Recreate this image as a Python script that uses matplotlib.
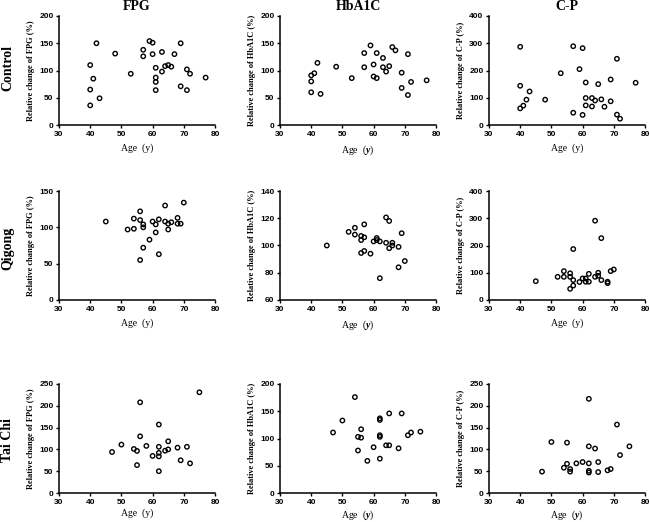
import matplotlib
matplotlib.use('Agg')
import matplotlib.pyplot as plt

plt.rcParams['font.family'] = ['Liberation Serif', 'DejaVu Serif']
plt.rcParams['mathtext.fontset'] = 'custom'
plt.rcParams['mathtext.it'] = 'Liberation Serif:italic:bold'
plt.rcParams['mathtext.rm'] = 'Liberation Serif:bold'

# ---- data (age, relative change %) ----
ctrl_fpg_age = [40, 40, 40, 41, 42, 43, 48, 53, 57, 57, 59, 60, 60, 61, 61, 61, 61, 63, 63, 64, 65, 66, 67, 69, 69, 71, 71, 72, 77]
ctrl_fpg_val = [110, 65, 36, 85, 150, 49, 131, 94, 138, 126, 154, 151, 130, 105, 87, 79, 64, 134, 98, 108, 110, 107, 130, 150, 71, 102, 64, 94, 87]

ctrl_hba_age = [40, 40, 40, 41, 42, 43, 48, 53, 57, 57, 59, 60, 60, 61, 61, 63, 63, 64, 65, 66, 67, 69, 69, 71, 71, 72, 77]
ctrl_hba_val = [91, 80, 60, 95, 114, 57, 107, 86, 132, 106, 146, 111, 89, 132, 86, 123, 106, 98, 108, 143, 137, 96, 68, 130, 55, 79, 82]

ctrl_cp_age = [40, 40, 40, 41, 42, 43, 48, 53, 57, 57, 59, 60, 60, 61, 61, 61, 63, 63, 64, 65, 66, 67, 69, 69, 71, 71, 72, 77]
ctrl_cp_val = [287, 144, 61, 71, 93, 123, 93, 190, 45, 289, 205, 282, 37, 156, 99, 72, 99, 68, 90, 150, 94, 67, 167, 87, 243, 38, 23, 155]

qg_fpg_age = [45, 52, 54, 54, 56, 56, 56, 57, 57, 57, 59, 60, 61, 61, 62, 62, 64, 64, 65, 65, 66, 68, 68, 69, 70]
qg_fpg_val = [108, 97, 112, 98, 122, 110, 55, 104, 100, 72, 83, 108, 104, 93, 111, 63, 130, 108, 105, 97, 107, 113, 105, 105, 134]

qg_hba_age = [45, 52, 54, 54, 56, 56, 56, 57, 57, 57, 59, 60, 61, 61, 62, 62, 64, 64, 65, 65, 66, 66, 68, 68, 69, 70]
qg_hba_val = [100, 110, 113, 108, 107, 104, 94.5, 115.5, 106, 96, 94, 103, 105.5, 104, 103, 76, 120.6, 102, 118, 98, 102, 100, 99, 84, 109, 88.6]

qg_cp_age = [45, 52, 54, 54, 56, 56, 56, 57, 57, 57, 59, 60, 61, 61, 62, 62, 64, 64, 65, 65, 66, 66, 68, 68, 69, 70]
qg_cp_val = [69, 85, 106, 85, 98, 85, 41, 187, 73, 53, 66, 79, 79, 67, 96, 67, 291, 85, 100, 89, 227, 73, 67, 62, 106, 112]

tc_fpg_age = [47, 50, 54, 55, 55, 56, 56, 58, 60, 62, 62, 62, 62, 62, 64, 65, 65, 68, 69, 71, 72, 75]
tc_fpg_val = [94, 111, 101, 96.5, 64, 208, 130, 108, 85, 157, 106, 92, 84, 50, 97, 118.5, 100, 104, 75, 106, 68, 231]

tc_hba_age = [47, 50, 54, 55, 55, 56, 56, 58, 60, 62, 62, 62, 62, 62, 64, 65, 65, 68, 69, 71, 72, 75]
tc_hba_val = [111, 133, 176, 103, 78, 117, 101.5, 59, 84, 137, 134, 106, 103, 63, 87.5, 146, 87.5, 82, 146, 106, 111, 112.5]

tc_cp_age = [47, 50, 54, 55, 55, 56, 56, 58, 60, 62, 62, 62, 62, 62, 64, 65, 65, 68, 69, 71, 72, 75]
tc_cp_val = [49, 117, 58, 67, 115.5, 55, 49, 68, 71, 216, 107, 68, 51, 47, 102, 71, 48, 52, 55, 157, 87, 107]

col_titles = ['FPG', 'HbA1C', 'C-P']
row_titles = ['Control', 'Qigong', 'Tai Chi']
ylabels = ['Relative change of FPG (%)', 'Relative change of HbA1C (%)', 'Relative change of C-P (%)']

panels = [
    [(ctrl_fpg_age, ctrl_fpg_val, 0, 200, 50), (ctrl_hba_age, ctrl_hba_val, 0, 200, 50), (ctrl_cp_age, ctrl_cp_val, 0, 400, 100)],
    [(qg_fpg_age, qg_fpg_val, 0, 150, 50), (qg_hba_age, qg_hba_val, 60, 140, 20), (qg_cp_age, qg_cp_val, 0, 400, 100)],
    [(tc_fpg_age, tc_fpg_val, 0, 250, 50), (tc_hba_age, tc_hba_val, 0, 200, 50), (tc_cp_age, tc_cp_val, 0, 250, 50)],
]

W, H = 650, 522
fig = plt.figure(figsize=(6.5, 5.22), dpi=100)

lefts = [59, 280, 489]
tops = [16, 191, 384]
aw, ah = 156, 109

for r in range(3):
    for c in range(3):
        age, val, ymin, ymax, ystep = panels[r][c]
        ax = fig.add_axes([lefts[c] / W, 1 - (tops[r] + ah) / H, aw / W, ah / H])
        ax.scatter(age, val, s=10, facecolors='none', edgecolors='black', linewidths=1.0, clip_on=False, zorder=3)
        ax.set_xlim(30, 80)
        ax.set_ylim(ymin, ymax)
        ax.set_xticks(range(30, 81, 10))
        ax.set_yticks(range(ymin, ymax + 1, ystep))
        for s in ['top', 'right']:
            ax.spines[s].set_visible(False)
        for s in ['left', 'bottom']:
            ax.spines[s].set_linewidth(1.1)
        ax.tick_params(direction='out', length=2.5, width=1.0, pad=1.5, labelsize=6)
        for lab in ax.get_xticklabels() + ax.get_yticklabels():
            lab.set_fontfamily('Liberation Sans')
            lab.set_fontweight('bold')
        ax.set_ylabel(ylabels[c], fontsize=6, fontweight='bold', labelpad=3)
        pad = 2 if r == 2 else 4
        if c == 1 or (c == 2 and r == 2):
            ax.set_xlabel(r'Age  ($\it{y}$)', fontsize=7, labelpad=pad)
        else:
            ax.set_xlabel('Age  (y)', fontsize=7, labelpad=pad)
        if r == 0:
            ax.set_title(col_titles[c], fontsize=10, fontweight='bold', pad=4)

row_centers = [68, 248, 440]
for r in range(3):
    fig.text(8 / W, 1 - row_centers[r] / H, row_titles[r], rotation=90, fontsize=10,
             fontweight='bold', ha='center', va='center')

fig.savefig('out.png', dpi=100)
